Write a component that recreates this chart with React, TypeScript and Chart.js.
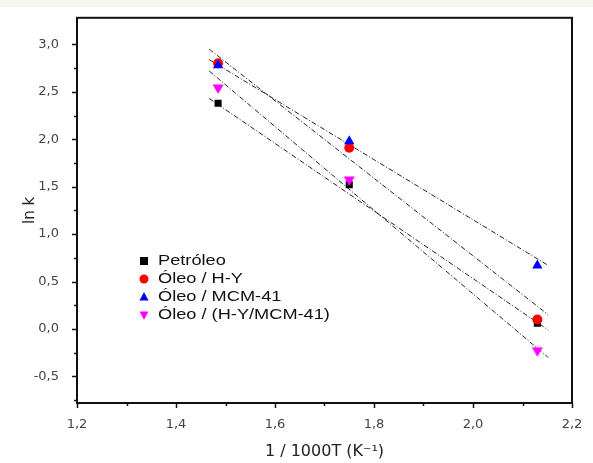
import React, { useEffect, useRef } from "react";
import { Chart, registerables } from "chart.js";

Chart.register(...registerables);

// ---- data ----
const xValues = [1.485, 1.75, 2.13];
const petroleo = [2.38, 1.52, 0.06];
const oleoHY = [2.8, 1.91, 0.1];
const oleoMCM = [2.78, 1.98, 0.67];
const oleoHYMCM = [2.53, 1.56, -0.24];

// fitted lines (start, end)
const fitX = [1.467, 2.152];
const fitPetroleo = [2.43, -0.01];
const fitHY = [2.95, 0.15];
const fitMCM = [2.84, 0.67];
const fitHYMCM = [2.72, -0.3];

const seriesNames = ["Petróleo", "Óleo / H-Y", "Óleo / MCM-41", "Óleo / (H-Y/MCM-41)"];
const seriesColors = ["#000000", "#ff0000", "#0000ff", "#ff00ff"];
const seriesShapes = ["rect", "circle", "triangle", "triangleDown"];

const xMin = 1.2;
const xMax = 2.2;
const yMin = -0.78;
const yMax = 3.28;

const FONT = "'Liberation Sans', Arial, sans-serif";
const WIDE = "'DejaVu Sans', 'Liberation Sans', sans-serif";

const toPts = (xs: number[], ys: number[]) => xs.map((x, i) => ({ x, y: ys[i] }));

function drawMarker(ctx: CanvasRenderingContext2D, shape: string, x: number, y: number, r: number, color: string) {
  ctx.save();
  ctx.fillStyle = color;
  ctx.beginPath();
  if (shape === "rect") {
    ctx.rect(x - r, y - r, 2 * r, 2 * r);
  } else if (shape === "circle") {
    ctx.arc(x, y, r, 0, Math.PI * 2);
  } else if (shape === "triangle") {
    ctx.moveTo(x, y - r * 1.1);
    ctx.lineTo(x + r, y + r * 0.8);
    ctx.lineTo(x - r, y + r * 0.8);
    ctx.closePath();
  } else {
    ctx.moveTo(x, y + r * 1.1);
    ctx.lineTo(x + r, y - r * 0.8);
    ctx.lineTo(x - r, y - r * 0.8);
    ctx.closePath();
  }
  ctx.fill();
  ctx.restore();
}

const downTriangle = (() => {
  if (typeof document === "undefined") return "triangle";
  const c = document.createElement("canvas");
  c.width = 12;
  c.height = 12;
  const g = c.getContext("2d")!;
  g.fillStyle = "#ff00ff";
  g.beginPath();
  g.moveTo(0.5, 1.5);
  g.lineTo(11.5, 1.5);
  g.lineTo(6, 11);
  g.closePath();
  g.fill();
  return c;
})();

const framePlugin = {
  id: "frame",
  beforeDraw(chart: any) {
    const { ctx, width, height } = chart;
    ctx.save();
    ctx.fillStyle = "#ffffff";
    ctx.fillRect(0, 0, width, height);
    ctx.fillStyle = "#f4f7ea";
    ctx.fillRect(0, 0, width, 7);
    ctx.restore();
  },
  afterDraw(chart: any) {
    const { ctx, chartArea } = chart;
    const { left, right, top, bottom } = chartArea;
    const xs = chart.scales.x;
    const ys = chart.scales.y;
    ctx.save();
    ctx.strokeStyle = "#111111";
    ctx.lineWidth = 2;
    ctx.strokeRect(left, top, right - left, bottom - top);
    ctx.lineWidth = 1.5;
    // x ticks
    for (let i = 0; i <= 10; i++) {
      const v = xMin + i * 0.1;
      const px = Math.round(xs.getPixelForValue(v)) + 0.5;
      const len = i % 2 === 0 ? 5 : 3;
      ctx.beginPath();
      ctx.moveTo(px, bottom);
      ctx.lineTo(px, bottom + len);
      ctx.stroke();
    }
    // y ticks
    for (let v = -0.75; v <= 3.01; v += 0.25) {
      const py = Math.round(ys.getPixelForValue(v)) + 0.5;
      const major = Math.abs(Math.round(v * 2) - v * 2) < 1e-6;
      const len = major ? 5 : 3;
      ctx.beginPath();
      ctx.moveTo(left, py);
      ctx.lineTo(left - len, py);
      ctx.stroke();
    }
    // legend
    const lx = 144;
    const tx = 158;
    const rows = [261, 279, 297, 315];
    const stretch = 1.3;
    ctx.font = `14px ${FONT}`;
    ctx.textBaseline = "middle";
    ctx.textAlign = "left";
    for (let i = 0; i < seriesNames.length; i++) {
      drawMarker(ctx, seriesShapes[i], lx, rows[i], i === 0 ? 4 : 4.5, seriesColors[i]);
      ctx.save();
      ctx.translate(tx, rows[i]);
      ctx.scale(stretch, 1);
      ctx.fillStyle = "#111111";
      ctx.fillText(seriesNames[i], 0, 0);
      ctx.restore();
    }
    ctx.restore();
  },
};

export default function App() {
  const ref = useRef<HTMLCanvasElement | null>(null);

  useEffect(() => {
    if (!ref.current) return;
    const fitStyle = {
      showLine: true,
      borderColor: "#222222",
      borderWidth: 1,
      borderDash: [5, 2, 1, 2],
      pointRadius: 0,
      fill: false,
      order: 10,
    };
    const chart = new Chart(ref.current, {
      type: "scatter",
      data: {
        datasets: [
          { label: "fit Petróleo", data: toPts(fitX, fitPetroleo), ...fitStyle },
          { label: "fit H-Y", data: toPts(fitX, fitHY), ...fitStyle },
          { label: "fit MCM", data: toPts(fitX, fitMCM), ...fitStyle },
          { label: "fit HYMCM", data: toPts(fitX, fitHYMCM), ...fitStyle },
          {
            label: seriesNames[0],
            data: toPts(xValues, petroleo),
            pointStyle: "rect",
            pointRadius: 5,
            backgroundColor: seriesColors[0],
            borderColor: seriesColors[0],
            borderWidth: 0,
            order: 4,
          },
          {
            label: seriesNames[1],
            data: toPts(xValues, oleoHY),
            pointStyle: "circle",
            pointRadius: 5,
            backgroundColor: seriesColors[1],
            borderColor: seriesColors[1],
            borderWidth: 0,
            order: 3,
          },
          {
            label: seriesNames[2],
            data: toPts(xValues, oleoMCM),
            pointStyle: "triangle",
            pointRadius: 6,
            backgroundColor: seriesColors[2],
            borderColor: seriesColors[2],
            borderWidth: 0,
            order: 2,
          },
          {
            label: seriesNames[3],
            data: toPts(xValues, oleoHYMCM),
            pointStyle: downTriangle as any,
            pointRadius: 6,
            backgroundColor: seriesColors[3],
            borderColor: seriesColors[3],
            borderWidth: 0,
            order: 1,
          },
        ],
      },
      options: {
        animation: false,
        responsive: false,
        devicePixelRatio: 1,
        layout: { padding: { top: 14, right: 21, left: 0, bottom: 0 } },
        plugins: {
          legend: { display: false },
          tooltip: { enabled: false },
        },
        scales: {
          x: {
            type: "linear",
            min: xMin,
            max: xMax,
            grid: { display: false },
            border: { display: false },
            afterFit: (s: any) => {
              s.height = 60;
            },
            ticks: {
              stepSize: 0.2,
              includeBounds: false,
              padding: 6,
              color: "#444444",
              font: { family: WIDE, size: 13 },
              maxRotation: 0,
              autoSkip: false,
              callback: (v: any) => Number(v).toFixed(1).replace(".", ","),
            },
            title: {
              display: true,
              text: "1 / 1000T (K⁻¹)",
              color: "#222222",
              font: { family: WIDE, size: 16 },
              padding: { top: 0, bottom: 2 },
            },
          },
          y: {
            type: "linear",
            min: yMin,
            max: yMax,
            grid: { display: false },
            border: { display: false },
            afterFit: (s: any) => {
              s.width = 77;
            },
            afterBuildTicks: (s: any) => {
              const t = [];
              for (let v = -0.5; v <= 3.001; v += 0.5) t.push({ value: Math.round(v * 10) / 10 });
              s.ticks = t;
            },
            ticks: {
              padding: 10,
              color: "#444444",
              font: { family: WIDE, size: 13 },
              autoSkip: false,
              callback: (v: any) => Number(v).toFixed(1).replace(".", ","),
            },
            title: {
              display: true,
              text: "ln k",
              color: "#222222",
              font: { family: WIDE, size: 15 },
              padding: { top: 21, bottom: 0 },
            },
          },
        },
      },
      plugins: [framePlugin],
    });
    return () => chart.destroy();
  }, []);

  return (
    <div style={{ position: "fixed", left: 0, top: 0, width: 593, height: 463, background: "#fff" }}>
      <canvas ref={ref} width={593} height={463} style={{ display: "block" }} />
    </div>
  );
}
